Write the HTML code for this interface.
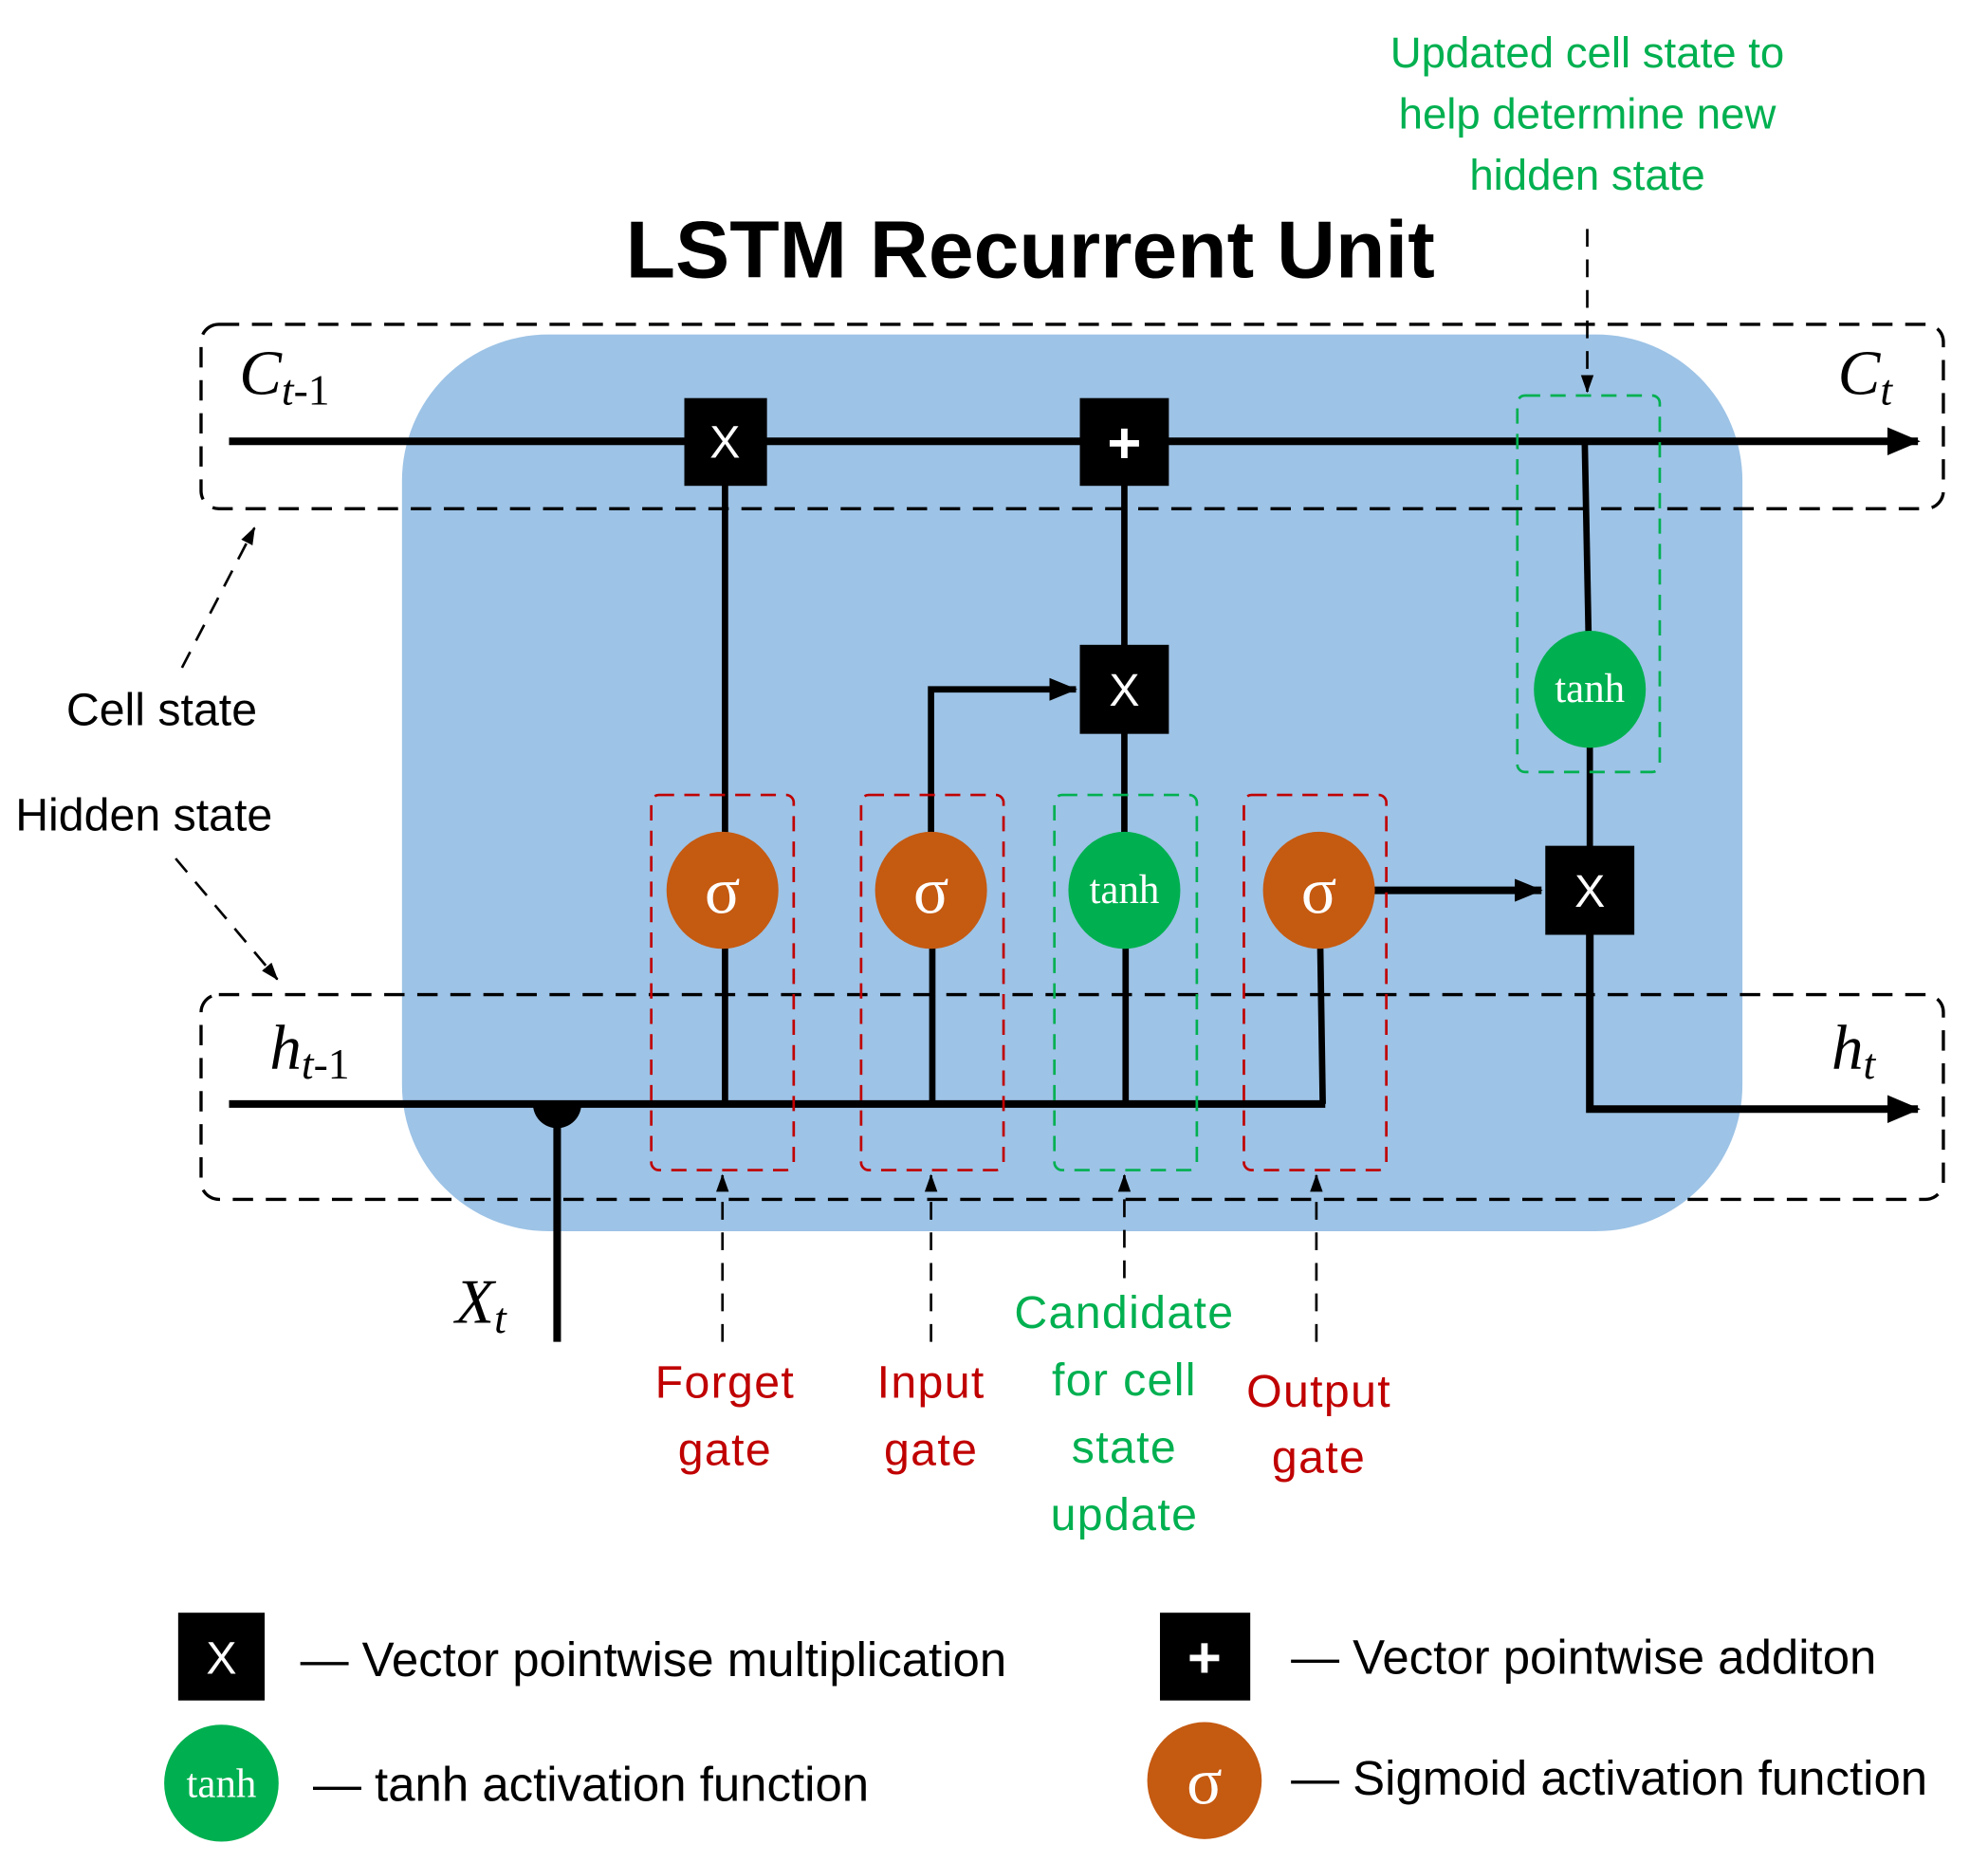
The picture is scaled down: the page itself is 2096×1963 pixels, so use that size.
<!DOCTYPE html>
<html><head><meta charset="utf-8"><style>html,body{margin:0;padding:0;background:#fff}svg{display:block}</style></head>
<body>
<svg xmlns="http://www.w3.org/2000/svg" width="2096" height="1963" viewBox="0 0 1563 1464">
<defs>
<marker id="ah" markerWidth="14" markerHeight="18" refX="13" refY="7" orient="auto" markerUnits="userSpaceOnUse" viewBox="0 0 14 14"><path d="M0,2 L14,7 L0,12 z" fill="#000"/></marker>
<marker id="big" markerWidth="26" markerHeight="26" refX="24" refY="13" orient="auto" markerUnits="userSpaceOnUse" viewBox="0 0 26 26"><path d="M0,2 L26,13 L0,24 z" fill="#000"/></marker>
<marker id="sm" markerWidth="22" markerHeight="22" refX="21" refY="11" orient="auto" markerUnits="userSpaceOnUse" viewBox="0 0 22 22"><path d="M0,2 L22,11 L0,20 z" fill="#000"/></marker>
</defs>
<g font-family="'Liberation Sans Narrow','Liberation Sans',sans-serif">
<text x="810" y="218" font-size="64" font-weight="bold" text-anchor="middle" fill="#000">LSTM Recurrent Unit</text>
<g fill="#00b050" font-size="34" text-anchor="middle">
<text x="1248" y="53">Updated cell state to</text>
<text x="1248" y="101">help determine new</text>
<text x="1248" y="149">hidden state</text>
</g>

<rect x="316" y="263" width="1054" height="705" rx="115" fill="#9dc3e6"/>
<line x1="1248" y1="180" x2="1248" y2="308" stroke="#000" stroke-width="2" stroke-dasharray="14,10" marker-end="url(#ah)"/>
<rect x="158" y="255" width="1370" height="145" rx="14" fill="none" stroke="#000" stroke-width="2.5" stroke-dasharray="16,10"/>
<rect x="158" y="782" width="1370" height="161" rx="14" fill="none" stroke="#000" stroke-width="2.5" stroke-dasharray="16,10"/>

<g font-family="'Liberation Serif',serif" font-style="italic" fill="#000">
<text x="188" y="310" font-size="50">C<tspan font-size="34" dy="8">t</tspan><tspan font-style="normal" font-size="34">-1</tspan></text>
<text x="1445" y="310" font-size="50">C<tspan font-size="34" dy="8">t</tspan></text>
<text x="212" y="840" font-size="50">h<tspan font-size="34" dy="8">t</tspan><tspan font-style="normal" font-size="34">-1</tspan></text>
<text x="1440" y="840" font-size="50">h<tspan font-size="34" dy="8">t</tspan></text>
<text x="358" y="1040" font-size="50">X<tspan font-size="34" dy="8">t</tspan></text>
</g>

<g stroke="#000" fill="none">
<line x1="180" y1="347" x2="1508" y2="347" stroke-width="6" marker-end="url(#big)"/>
<line x1="570" y1="380" x2="570" y2="660" stroke-width="5"/>
<line x1="884" y1="380" x2="884" y2="510" stroke-width="5"/>
<line x1="884" y1="575" x2="884" y2="660" stroke-width="5"/>
<polyline points="732,660 732,542 846,542" stroke-width="5" marker-end="url(#sm)"/>
<line x1="1246" y1="347" x2="1249" y2="500" stroke-width="5"/>
<line x1="1250" y1="585" x2="1250" y2="668" stroke-width="5"/>
<line x1="1080" y1="700" x2="1212" y2="700" stroke-width="6" marker-end="url(#sm)"/>
<polyline points="1250,733 1250,872 1508,872" stroke-width="6" marker-end="url(#big)"/>
<line x1="180" y1="868" x2="1042" y2="868" stroke-width="6"/>
<line x1="570" y1="740" x2="570" y2="868" stroke-width="5"/>
<line x1="733" y1="740" x2="733" y2="868" stroke-width="5"/>
<line x1="885" y1="740" x2="885" y2="868" stroke-width="5"/>
<line x1="1038" y1="740" x2="1040" y2="868" stroke-width="5"/>
<line x1="438" y1="872" x2="438" y2="1055" stroke-width="6"/>
</g>
<path d="M419,868 A19,19 0 0 0 457,868 z" fill="#000"/>

<g fill="none" stroke-width="2" stroke-dasharray="12,8">
<rect x="512" y="625" width="112" height="295" rx="6" stroke="#c00000"/>
<rect x="677" y="625" width="112" height="295" rx="6" stroke="#c00000"/>
<rect x="829" y="625" width="112" height="295" rx="6" stroke="#00b050"/>
<rect x="978" y="625" width="112" height="295" rx="6" stroke="#c00000"/>
<rect x="1193" y="311" width="112" height="296" rx="6" stroke="#00b050"/>
</g>

<g fill="#000">
<rect x="538" y="313" width="65" height="69"/>
<rect x="849" y="313" width="70" height="69"/>
<rect x="849" y="507" width="70" height="70"/>
<rect x="1215" y="665" width="70" height="70"/>
</g>
<g fill="#fff" font-size="36" text-anchor="middle">
<text x="570" y="360">X</text>
<text x="884" y="364" font-size="46" font-weight="bold">+</text>
<text x="884" y="555">X</text>
<text x="1250" y="713">X</text>
</g>

<g font-family="'Liberation Serif',serif" fill="#fff" text-anchor="middle">
<ellipse cx="568" cy="700" rx="44" ry="46" fill="#c55a11"/>
<ellipse cx="732" cy="700" rx="44" ry="46" fill="#c55a11"/>
<ellipse cx="884" cy="700" rx="44" ry="46" fill="#00b050"/>
<ellipse cx="1037" cy="700" rx="44" ry="46" fill="#c55a11"/>
<ellipse cx="1250" cy="542" rx="44" ry="46" fill="#00b050"/>
<text x="568" y="718" font-size="52">σ</text>
<text x="732" y="718" font-size="52">σ</text>
<text x="1037" y="718" font-size="52">σ</text>
<text x="884" y="710" font-size="32">tanh</text>
<text x="1250" y="552" font-size="32">tanh</text>
</g>

<g stroke="#000" stroke-width="2" stroke-dasharray="14,10" fill="none">
<line x1="568" y1="1055" x2="568" y2="924" marker-end="url(#ah)"/>
<line x1="732" y1="1055" x2="732" y2="924" marker-end="url(#ah)"/>
<line x1="884" y1="1005" x2="884" y2="924" marker-end="url(#ah)"/>
<line x1="1035" y1="1055" x2="1035" y2="924" marker-end="url(#ah)"/>
<line x1="143" y1="525" x2="200" y2="415" marker-end="url(#ah)"/>
<line x1="138" y1="675" x2="218" y2="770" marker-end="url(#ah)"/>
</g>

<g font-size="36" fill="#000">
<text x="52" y="570">Cell state</text>
<text x="12" y="653">Hidden state</text>
</g>
<g font-size="36" text-anchor="middle" fill="#c00000" letter-spacing="1">
<text x="570" y="1099">Forget</text><text x="570" y="1152">gate</text>
<text x="732" y="1099">Input</text><text x="732" y="1152">gate</text>
<text x="1037" y="1106">Output</text><text x="1037" y="1158">gate</text>
</g>
<g font-size="36" text-anchor="middle" fill="#00b050" letter-spacing="1">
<text x="884" y="1044">Candidate</text><text x="884" y="1097">for cell</text>
<text x="884" y="1150">state</text><text x="884" y="1203">update</text>
</g>

<rect x="140" y="1268" width="68" height="69" fill="#000"/>
<text x="174" y="1316" font-size="36" fill="#fff" text-anchor="middle">X</text>
<rect x="912" y="1268" width="71" height="69" fill="#000"/>
<text x="947" y="1319" font-size="46" font-weight="bold" fill="#fff" text-anchor="middle">+</text>
<ellipse cx="174" cy="1402" rx="45" ry="46" fill="#00b050"/>
<text x="174" y="1413" font-size="32" fill="#fff" text-anchor="middle" font-family="'Liberation Serif',serif">tanh</text>
<ellipse cx="947" cy="1400" rx="45" ry="46" fill="#c55a11"/>
<text x="947" y="1418" font-size="52" fill="#fff" text-anchor="middle" font-family="'Liberation Serif',serif">σ</text>
<g font-size="38" fill="#000">
<text x="236" y="1318">— Vector pointwise multiplication</text>
<text x="246" y="1416">— tanh activation function</text>
<text x="1015" y="1316">— Vector pointwise additon</text>
<text x="1015" y="1411">— Sigmoid activation function</text>
</g>
</g>
</svg>
</body></html>
